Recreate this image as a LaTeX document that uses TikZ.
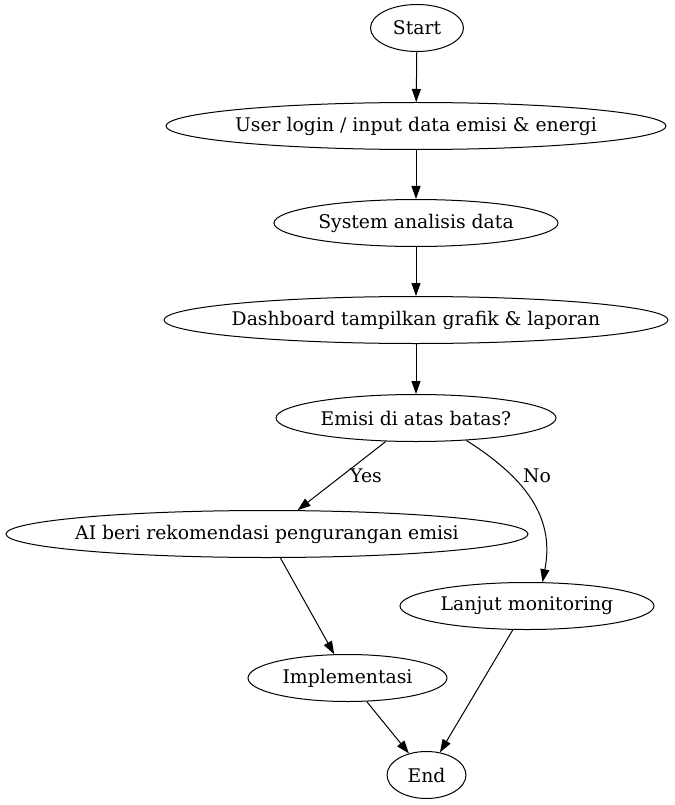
\documentclass[tikz,border=0pt]{standalone}
\usepackage{fontspec}
\setmainfont{DejaVu Serif}
\usetikzlibrary{shapes.geometric,arrows.meta}

\begin{document}
\begin{tikzpicture}[x=1pt,y=-1pt,
  every node/.style={font=\fontsize{18.8}{22}\selectfont},
  state/.style={draw,ellipse,line width=1pt,inner xsep=-15pt,inner ysep=0pt,minimum height=47pt},
  flow/.style={line width=1pt,-{Triangle[length=13pt,width=9pt]}}]
\useasboundingbox (0,0) rectangle (674,805);
\node [state,minimum width=93pt] (start) at (417,28) {Start};
\node [state,minimum width=500pt] (login) at (416,126) {User login / input data emisi \& energi};
\node [state,minimum width=284pt] (analisis) at (416,223) {System analisis data};
\node [state,minimum width=504pt] (dashboard) at (416,320) {Dashboard tampilkan grafik \& laporan};
\node [state,minimum width=280pt] (emisi) at (416,418) {Emisi di atas batas?};
\node [state,minimum width=522pt] (rekomendasi) at (267,534) {AI beri rekomendasi pengurangan emisi};
\node [state,minimum width=254pt] (monitoring) at (527,606) {Lanjut monitoring};
\node [state,minimum width=199pt] (implementasi) at (347.5,678) {Implementasi};
\node [state,minimum width=79pt] (end) at (426.5,775) {End};
\draw [flow] (start) -- (login);
\draw [flow] (login) -- (analisis);
\draw [flow] (analisis) -- (dashboard);
\draw [flow] (dashboard) -- (emisi);
\draw [flow] (emisi) -- (rekomendasi);
\node (yes) at (366,476) {Yes};
\draw [flow] (emisi.-24) .. controls (532,482) and (554,522) .. (monitoring.57);
\node (no) at (537,476) {No};
\draw [flow] (rekomendasi) -- (implementasi);
\draw [flow] (implementasi) -- (end);
\draw [flow] (monitoring) -- (end);
\end{tikzpicture}
\end{document}
